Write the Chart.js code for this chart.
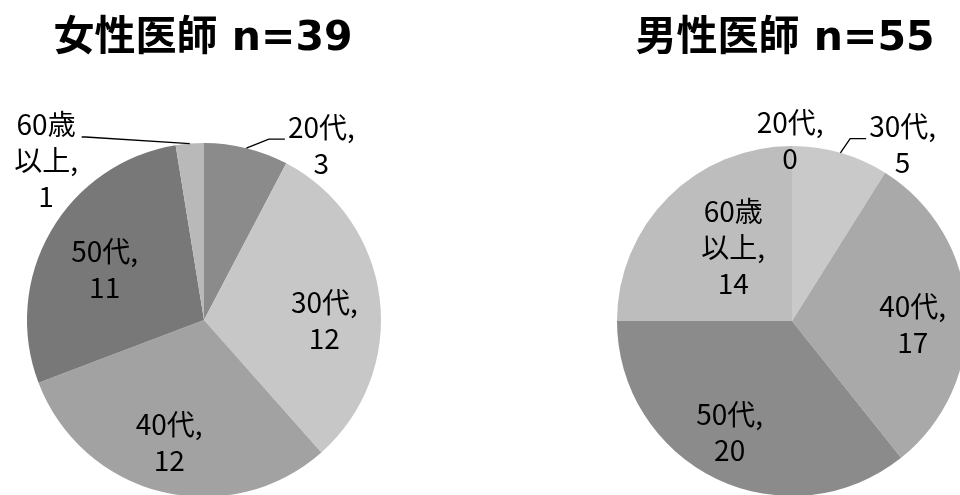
<!DOCTYPE html>
<html>
<head>
<meta charset="utf-8">
<script src="https://cdn.jsdelivr.net/npm/chart.js@4/dist/chart.umd.min.js"></script>
<style>
  html, body { margin: 0; padding: 0; background: #fff; }
  body { width: 960px; height: 495px; overflow: hidden; position: relative; }
  .box { position: absolute; top: 0; height: 520px; }
  .title {
    position: absolute; top: 2px; width: 100%; text-align: center;
    font-family: "DejaVu Sans", "Noto Sans CJK JP", sans-serif; font-weight: 700;
    font-size: 41px; color: #000; white-space: nowrap;
  }
</style>
</head>
<body>
<div class="box" id="boxF" style="left:0;width:480px">
  <div class="title" style="left:-37px">女性医師 n=39</div>
  <canvas id="pieF" width="480" height="520"></canvas>
</div>
<div class="box" id="boxM" style="left:480px;width:500px">
  <div class="title" style="left:55px">男性医師 n=55</div>
  <canvas id="pieM" width="500" height="520"></canvas>
</div>
<script>
// data
const categories = ['20代', '30代', '40代', '50代', '60歳以上'];
const femaleCounts = [3, 12, 12, 11, 1];
const maleCounts   = [0, 5, 17, 20, 14];

// slice greys
const femaleColors = ['#8b8b8b', '#c7c7c7', '#a2a2a2', '#787878', '#b9b9b9'];
const maleColors   = ['#9a9a9a', '#c9c9c9', '#a9a9a9', '#8b8b8b', '#bdbdbd'];

// label text lines per slice (Excel style "name, value")
function labelLines(name, value) {
  if (name === '60歳以上') return ['60歳', '以上,', String(value)];
  return [name + ',', String(value)];
}

// label placement: radius fraction + angle shift (deg) from slice middle, leader line side
const femalePlace = [
  { r: 1.19, da: 20, leader: 'right' },
  { r: 0.68, da: 7 },
  { r: 0.72, da: 2 },
  { r: 0.63, da: -3 },
  { r: 1.27, da: -40, leader: 'left' },
];
const malePlace = [
  { r: 1.03, da: -0.6 },
  { r: 1.19, da: 16, leader: 'right' },
  { r: 0.69, da: 5 },
  { r: 0.73, da: 3.5 },
  { r: 0.54, da: 6.5 },
];

const labelPlugin = {
  id: 'sliceLabels',
  afterDatasetsDraw(chart, args, opts) {
    const ctx = chart.ctx;
    const meta = chart.getDatasetMeta(0);
    const values = chart.data.datasets[0].data;
    const lineH = 36;
    ctx.save();
    ctx.font = '28px "Noto Sans CJK JP", sans-serif';
    ctx.fillStyle = '#000';
    ctx.textAlign = 'center';
    ctx.textBaseline = 'middle';
    meta.data.forEach((arc, i) => {
      const p = opts.place[i];
      const mid = (arc.startAngle + arc.endAngle) / 2;
      const a = mid + p.da * Math.PI / 180;
      const R = arc.outerRadius;
      const cx = arc.x + Math.cos(a) * R * p.r;
      const cy = arc.y + Math.sin(a) * R * p.r;
      const lines = labelLines(chart.data.labels[i], values[i]);
      const top = cy - (lines.length - 1) * lineH / 2;
      lines.forEach((t, k) => ctx.fillText(t, cx, top + k * lineH));

      if (p.leader) {
        const ex = arc.x + Math.cos(mid) * R;
        const ey = arc.y + Math.sin(mid) * R;
        const w = ctx.measureText(lines[0]).width;
        const ly = top + 12;
        ctx.beginPath();
        ctx.strokeStyle = '#000';
        ctx.lineWidth = 1.3;
        ctx.moveTo(ex, ey);
        if (p.leader === 'right') {
          const lx = cx - w / 2 - 3;
          ctx.lineTo(lx - 16, ly);
          ctx.lineTo(lx, ly);
        } else {
          const lx = cx + w / 2 + 6;
          ctx.lineTo(lx + 4, ly + 1);
          ctx.lineTo(lx, ly + 1);
        }
        ctx.stroke();
      }
    });
    ctx.restore();
  }
};

function makePie(id, counts, colors, place, padding) {
  return new Chart(document.getElementById(id), {
    type: 'pie',
    data: {
      labels: categories,
      datasets: [{
        data: counts,
        backgroundColor: colors,
        borderWidth: 0,
      }],
    },
    options: {
      responsive: false,
      animation: false,
      layout: { padding },
      plugins: {
        legend: { display: false },
        tooltip: { enabled: false },
        title: { display: false },
        sliceLabels: { place },
      },
    },
    plugins: [labelPlugin],
  });
}

makePie('pieF', femaleCounts, femaleColors, femalePlace, { left: 27, right: 99, top: 143, bottom: 23 });
makePie('pieM', maleCounts, maleColors, malePlace, { left: 137, right: 13, top: 146, bottom: 24 });
</script>
</body>
</html>
